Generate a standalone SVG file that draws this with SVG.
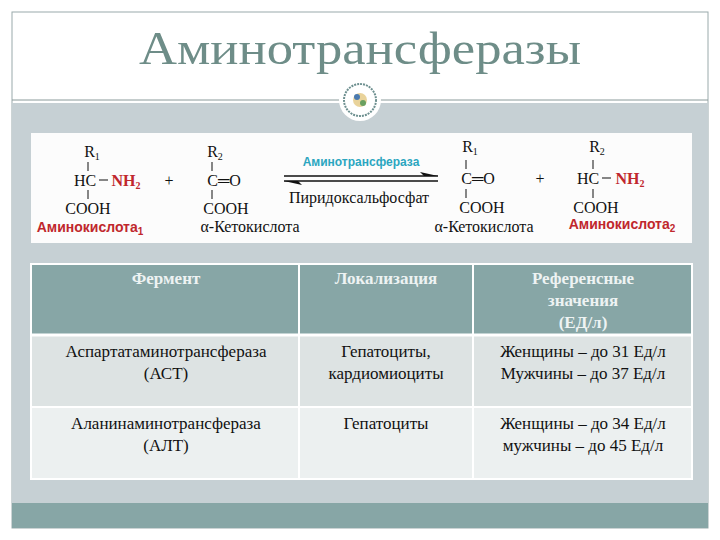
<svg xmlns="http://www.w3.org/2000/svg" width="720" height="540" viewBox="0 0 720 540">
<style>
.t{font-size:17px;fill:#111;text-anchor:middle}
.h{font-size:17px;font-weight:bold;fill:#eef3f3;text-anchor:middle}
.c{font-size:16px;fill:#111;text-anchor:middle}
.r{font-weight:bold;font-size:14px;fill:#c0272d;text-anchor:middle}
.b{stroke:#111;stroke-width:1}
</style>
<rect width="720" height="540" fill="#fff"/>
<rect x="12" y="12" width="696" height="516" fill="#fff" stroke="#9aaaab"/>
<rect x="12" y="103" width="696" height="400" fill="#c6d0d4"/>
<rect x="12" y="503" width="696" height="25" fill="#87a6a6"/>
<line x1="12" y1="100" x2="708" y2="100" stroke="#8a9a9a"/>
<text x="360" y="64" font-family="Liberation Serif,serif" font-size="46" fill="#6e8d88" text-anchor="middle" textLength="442" lengthAdjust="spacingAndGlyphs">Аминотрансферазы</text>
<g id="emblem">
<circle cx="360" cy="100" r="21" fill="#fff"/>
<circle cx="360" cy="100" r="16" fill="none" stroke="#6e9090" stroke-width="2" stroke-dasharray="2 1"/>
<circle cx="360" cy="100" r="7" fill="#e0c070" opacity="0.7"/>
<circle cx="357" cy="97" r="3" fill="#4a7ab0"/>
<circle cx="363" cy="103" r="3" fill="#6aa060"/>
</g>
<g id="reaction" font-family="Liberation Serif,serif">
<rect x="31" y="133" width="661" height="110" fill="#fcfcfc"/>
<text class="c" x="92" y="157">R<tspan font-size="10" dy="3">1</tspan></text>
<line class="b" x1="88" y1="162" x2="88" y2="171"/>
<text class="c" x="85" y="186">HC</text>
<line class="b" x1="99" y1="180" x2="108" y2="180"/>
<text x="126" y="186" font-size="16" font-weight="bold" fill="#c0272d" text-anchor="middle">NH<tspan font-size="10" dy="3">2</tspan></text>
<line class="b" x1="88" y1="190" x2="88" y2="199"/>
<text class="c" x="88" y="214">COOH</text>
<text class="r" x="90" y="232" font-family="Liberation Sans,sans-serif">Аминокислота<tspan font-size="10" dy="3">1</tspan></text>
<text class="c" x="169" y="186">+</text>
<text class="c" x="215" y="157">R<tspan font-size="10" dy="3">2</tspan></text>
<line class="b" x1="212" y1="162" x2="212" y2="171"/>
<text class="c" x="224" y="186">C═O</text>
<line class="b" x1="212" y1="190" x2="212" y2="199"/>
<text class="c" x="226" y="214">COOH</text>
<text class="c" x="250" y="232">α-Кетокислота</text>
<text x="361" y="166" font-family="Liberation Sans,sans-serif" font-size="12" font-weight="bold" fill="#2ba6c0" text-anchor="middle">Аминотрансфераза</text>
<line x1="284" y1="176" x2="438" y2="176" stroke="#111" stroke-width="1.5"/>
<polygon points="438,176 420,172 424,176" fill="#111"/>
<line x1="284" y1="181" x2="438" y2="181" stroke="#111" stroke-width="1.5"/>
<polygon points="284,181 302,185 298,181" fill="#111"/>
<text class="c" x="359" y="203">Пиридоксальфосфат</text>
<text class="c" x="470" y="152">R<tspan font-size="10" dy="3">1</tspan></text>
<line class="b" x1="466" y1="160" x2="466" y2="169"/>
<text class="c" x="478" y="184">C═O</text>
<line class="b" x1="466" y1="189" x2="466" y2="198"/>
<text class="c" x="482" y="213">COOH</text>
<text class="c" x="484" y="232">α-Кетокислота</text>
<text class="c" x="540" y="184">+</text>
<text class="c" x="597" y="152">R<tspan font-size="10" dy="3">2</tspan></text>
<line class="b" x1="593" y1="160" x2="593" y2="169"/>
<text class="c" x="588" y="184">HC</text>
<line class="b" x1="602" y1="178" x2="611" y2="178"/>
<text x="630" y="184" font-size="16" font-weight="bold" fill="#c0272d" text-anchor="middle">NH<tspan font-size="10" dy="3">2</tspan></text>
<line class="b" x1="593" y1="189" x2="593" y2="198"/>
<text class="c" x="596" y="213">COOH</text>
<text class="r" x="622" y="229" font-family="Liberation Sans,sans-serif">Аминокислота<tspan font-size="10" dy="3">2</tspan></text>
</g>
<g id="table" font-family="Liberation Serif,serif">
<rect x="31" y="264" width="661" height="71" fill="#87a6a6"/>
<rect x="31" y="335" width="661" height="72" fill="#dde3e3"/>
<rect x="31" y="407" width="661" height="72" fill="#ecf0f0"/>
<g stroke="#fff" stroke-width="2" fill="none">
<rect x="31" y="264" width="661" height="215"/>
<line x1="31" y1="335" x2="692" y2="335" stroke-width="3"/>
<line x1="31" y1="407" x2="692" y2="407"/>
<line x1="299" y1="264" x2="299" y2="479"/>
<line x1="473" y1="264" x2="473" y2="479"/>
</g>
<text class="h" x="166" y="284">Фермент</text>
<text class="h" x="386" y="284">Локализация</text>
<text class="h" x="583" y="284">Референсные</text>
<text class="h" x="583" y="306">значения</text>
<text class="h" x="583" y="328">(ЕД/л)</text>
<text class="t" x="166" y="357">Аспартатаминотрансфераза</text>
<text class="t" x="166" y="379">(АСТ)</text>
<text class="t" x="386" y="357">Гепатоциты,</text>
<text class="t" x="386" y="379">кардиомиоциты</text>
<text class="t" x="583" y="357">Женщины – до 31 Ед/л</text>
<text class="t" x="583" y="379">Мужчины – до 37 Ед/л</text>
<text class="t" x="166" y="429">Аланинаминотрансфераза</text>
<text class="t" x="166" y="451">(АЛТ)</text>
<text class="t" x="386" y="429">Гепатоциты</text>
<text class="t" x="583" y="429">Женщины – до 34 Ед/л</text>
<text class="t" x="583" y="451">мужчины – до 45 Ед/л</text>
</g>
</svg>
